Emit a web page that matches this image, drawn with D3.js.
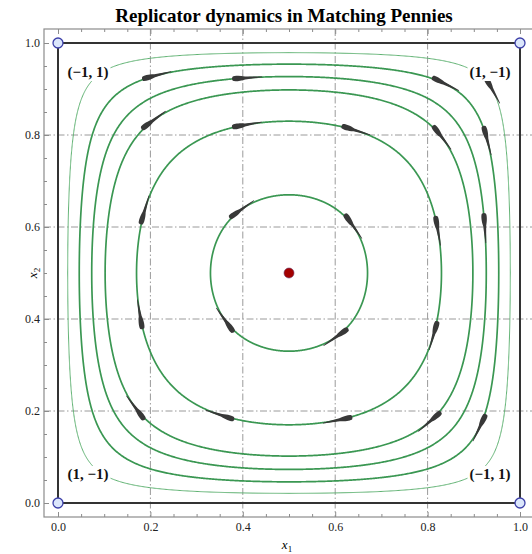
<!DOCTYPE html>
<html><head><meta charset="utf-8">
<script src="https://cdn.jsdelivr.net/npm/d3@7"></script>
<style>body{margin:0;background:#fff}</style>
</head><body>
<svg id="chart" width="532" height="554" xmlns="http://www.w3.org/2000/svg"></svg>
<script>
// ---------- data ----------
const title = "Replicator dynamics in Matching Pennies";
const xTicks = [0, 0.2, 0.4, 0.6, 0.8, 1.0];
const yTicks = [0, 0.2, 0.4, 0.6, 0.8, 1.0];
const gridValues = [0.2, 0.4, 0.6, 0.8];
// each orbit identified by where it crosses x2 = 0.5 on the left (x1 value)
const orbitIntercepts = [0.021, 0.046, 0.073, 0.102, 0.170, 0.330];
// arrow markers: orbit index and approximate location (x1, x2)
const arrowOrbit = [0, 1, 1, 1, 2, 1, 2, 3, 3, 3, 3, 4, 4, 4, 4, 4, 4, 4, 4, 5, 5, 5, 5];
const arrowX1 = [0.946, 0.21, 0.842, 0.931, 0.926, 0.918, 0.409, 0.203, 0.833, 0.805, 0.162,
                 0.409, 0.647, 0.827, 0.81, 0.606, 0.351, 0.173, 0.188, 0.396, 0.643, 0.604, 0.359];
const arrowX2 = [0.902, 0.935, 0.915, 0.789, 0.598, 0.159, 0.926, 0.837, 0.796, 0.176, 0.202,
                 0.822, 0.815, 0.593, 0.365, 0.178, 0.193, 0.409, 0.637, 0.641, 0.604, 0.357, 0.396];
const cornerX1 = [0, 1, 1, 0];
const cornerX2 = [0, 0, 1, 1];
const cornerLabels = ["(1, \u22121)", "(\u22121, 1)", "(1, \u22121)", "(\u22121, 1)"];
const equilibrium = [0.5, 0.5];

// ---------- layout ----------
const svg = d3.select("#chart");
const x = d3.scaleLinear().domain([0, 1]).range([58, 520]);
const y = d3.scaleLinear().domain([0, 1]).range([503, 43]);
const pad = 14 / 462;
const fx0 = x(-pad), fx1 = x(1 + pad), fy0 = y(-pad * 462 / 460), fy1 = y(1 + pad * 462 / 460);
const serif = "'Liberation Serif', 'Times New Roman', serif";

svg.append("rect").attr("width", 532).attr("height", 554).attr("fill", "#fff");

// title
svg.append("text").attr("x", 284).attr("y", 22).attr("text-anchor", "middle")
  .attr("font-family", serif).attr("font-weight", "bold").attr("font-size", 19)
  .text(title);

// grid
const grid = svg.append("g").attr("stroke", "#9a9a9a").attr("stroke-width", 1)
  .attr("stroke-dasharray", "7,2.5,1.5,2.5").attr("fill", "none");
gridValues.forEach(v => {
  grid.append("line").attr("x1", x(v)).attr("x2", x(v)).attr("y1", fy1).attr("y2", fy0);
  grid.append("line").attr("x1", fx0).attr("x2", fx1).attr("y1", y(v)).attr("y2", y(v));
});

// frame
svg.append("rect").attr("x", fx0).attr("y", fy1).attr("width", fx1 - fx0).attr("height", fy0 - fy1)
  .attr("fill", "none").attr("stroke", "#8c8c8c").attr("stroke-width", 1.2);

// axes
const minor = d3.range(0, 1.0001, 0.05).filter(v => Math.abs(v * 5 - Math.round(v * 5)) > 1e-6);
function styleAxis(g) {
  g.select(".domain").remove();
  g.selectAll(".tick line").attr("stroke", "#8c8c8c");
  g.selectAll("text").attr("font-family", serif).attr("font-size", 12).attr("fill", "#222");
}
svg.append("g").attr("transform", `translate(0,${fy0})`)
  .call(d3.axisBottom(x).tickValues(xTicks).tickFormat(d3.format(".1f")).tickSize(-5).tickPadding(5)).call(styleAxis);
svg.append("g").attr("transform", `translate(0,${fy0})`)
  .call(d3.axisBottom(x).tickValues(minor).tickFormat("").tickSize(-3)).call(styleAxis);
svg.append("g").attr("transform", `translate(0,${fy1})`)
  .call(d3.axisTop(x).tickValues(xTicks).tickFormat("").tickSize(-5)).call(styleAxis);
svg.append("g").attr("transform", `translate(0,${fy1})`)
  .call(d3.axisTop(x).tickValues(minor).tickFormat("").tickSize(-3)).call(styleAxis);
svg.append("g").attr("transform", `translate(${fx0},0)`)
  .call(d3.axisLeft(y).tickValues(yTicks).tickFormat(d3.format(".1f")).tickSize(-5).tickPadding(4)).call(styleAxis);
svg.append("g").attr("transform", `translate(${fx0},0)`)
  .call(d3.axisLeft(y).tickValues(minor).tickFormat("").tickSize(-3)).call(styleAxis);

// axis labels
const xl = svg.append("text").attr("x", 287).attr("y", 549).attr("font-family", serif)
  .attr("font-size", 13).attr("text-anchor", "middle");
xl.append("tspan").attr("font-style", "italic").text("x");
xl.append("tspan").attr("font-size", 9).attr("dy", 3).text("1");
const yl = svg.append("text").attr("transform", `translate(37,${y(0.5)}) rotate(-90)`)
  .attr("font-family", serif).attr("font-size", 13).attr("text-anchor", "middle");
yl.append("tspan").attr("font-style", "italic").text("x");
yl.append("tspan").attr("font-size", 9).attr("dy", 3).text("2");

// ---------- orbits: level sets of x1(1-x1)x2(1-x2) ----------
const F = (a, b) => a * (1 - a) * b * (1 - b);
function radiusAt(theta, V) {
  const c = Math.cos(theta), s = Math.sin(theta);
  let lo = 0, hi = 0.5 / Math.max(Math.abs(c), Math.abs(s)) - 1e-9;
  for (let i = 0; i < 60; i++) {
    const m = (lo + hi) / 2;
    if (F(0.5 + m * c, 0.5 + m * s) > V) lo = m; else hi = m;
  }
  return (lo + hi) / 2;
}
const levels = orbitIntercepts.map(a => F(a, 0.5));
const line = d3.line().x(d => x(d[0])).y(d => y(d[1])).curve(d3.curveLinearClosed);
const orbitG = svg.append("g").attr("fill", "none");
levels.forEach((V, i) => {
  const pts = d3.range(0, 1440).map(k => {
    const t = k / 1440 * 2 * Math.PI;
    const r = radiusAt(t, V);
    return [0.5 + r * Math.cos(t), 0.5 + r * Math.sin(t)];
  });
  orbitG.append("path").attr("d", line(pts))
    .attr("stroke", i === 0 ? "#5fb272" : "#3a9752")
    .attr("stroke-width", i === 0 ? 1.0 : 1.7);
});

// ---------- arrows ----------
const arrowG = svg.append("g").attr("fill", "#383838");
const L = 30, h = L / 2;
const arrowPath = `M${h},-0.35 L${h},0.35 L${-h + 13},1.5 C${-h + 8},2.9 ${-h + 2},3.1 ${-h + 0.5},2 ` +
  `Q${-h - 0.8},0 ${-h + 0.5},-2 C${-h + 2},-3.1 ${-h + 8},-2.9 ${-h + 13},-1.5 Z`;
arrowOrbit.forEach((oi, i) => {
  const V = levels[oi];
  const th = Math.atan2(arrowX2[i] - 0.5, arrowX1[i] - 0.5);
  const r = radiusAt(th, V);
  const px = 0.5 + r * Math.cos(th), py = 0.5 + r * Math.sin(th);
  const dx = px * (1 - px) * (2 * py - 1);
  const dy = -py * (1 - py) * (2 * px - 1);
  const ang = Math.atan2(-dy * 460, dx * 462) * 180 / Math.PI;
  arrowG.append("path").attr("d", arrowPath)
    .attr("transform", `translate(${x(px)},${y(py)}) rotate(${ang})`);
});

// ---------- strategy square ----------
const sq = d3.line().x((d, i) => x(cornerX1[i])).y((d, i) => y(cornerX2[i])).curve(d3.curveLinearClosed);
svg.append("path").attr("d", sq(cornerX1)).attr("fill", "none").attr("stroke", "#333").attr("stroke-width", 2);

// corner labels with white background
const offX = [1, -1, -1, 1], offY = [-1, -1, 1, 1];
cornerLabels.forEach((t, i) => {
  const cx = x(cornerX1[i]) + offX[i] * 30;
  const cy = y(cornerX2[i]) + offY[i] * 29;
  const g = svg.append("g");
  const txt = g.append("text").attr("x", cx).attr("y", cy + 5).attr("text-anchor", "middle")
    .attr("font-family", serif).attr("font-weight", "bold").attr("font-size", 15).attr("fill", "#111").text(t);
  const bb = txt.node().getBBox();
  g.insert("rect", "text").attr("x", bb.x - 2).attr("y", bb.y).attr("width", bb.width + 4).attr("height", bb.height)
    .attr("fill", "#fff");
});

// corner points
svg.append("g").selectAll("circle").data(cornerX1).join("circle")
  .attr("cx", (d, i) => x(cornerX1[i])).attr("cy", (d, i) => y(cornerX2[i])).attr("r", 5)
  .attr("fill", "#dbe6fb").attr("stroke", "#3c3fa8").attr("stroke-width", 1.3);

// equilibrium
svg.append("circle").attr("cx", x(equilibrium[0])).attr("cy", y(equilibrium[1])).attr("r", 5)
  .attr("fill", "#a30000").attr("stroke", "#6a3060").attr("stroke-width", 0.6);
</script>
</body></html>
